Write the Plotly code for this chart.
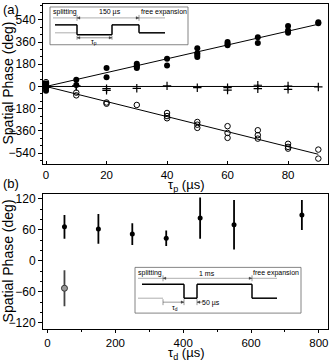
import plotly.graph_objects as go

# ---------- data ----------
# panel (a): spatial phase vs tau_p
filled_x = [0, 0, 0, 0, 10, 10, 20, 20, 30, 30, 30, 30, 40, 40, 50, 50, 50, 50,
            60, 60, 60, 70, 70, 80, 80, 80, 90, 90]
filled_y = [25, 10, -15, -35, 54, 12, 150, 75, 185, 170, 160, 150, 225, 170, 310, 270, 255, 240,
            360, 347, 334, 400, 352, 490, 455, 435, 520, 512]

cross_x = [0, 0, 10, 10, 20, 20, 30, 40, 50, 60, 60, 70, 70, 80, 80, 90]
cross_y = [0, -5, 0, 5, -18, -32, -15, 5, -10, -10, -30, 10, -18, 4, -23, -4]

open_x = [0, 0, 0, 10, 10, 20, 20, 30, 40, 40, 40, 50, 50, 50, 60, 60, 60,
          70, 70, 70, 80, 80, 80, 90, 90]
open_y = [35, 20, 5, -50, -72, -130, -140, -150, -215, -240, -258, -288, -310, -336, -322, -377, -417,
          -355, -395, -423, -465, -490, -504, -512, -585]

fit_x = [0, 90]
fit_pos = [0, 505]
fit_zero = [0, 0]
fit_neg = [0, -550]

# panel (b): spatial phase vs tau_d
td_x = [50, 150, 250, 350, 450, 550, 750]
td_y = [66, 62, 52, 44, 83, 70, 89]
td_err = [23, 29, 21, 15, 40, 48, 29]

td2_x = [50]
td2_y = [-53]
td2_err = [35]

# ---------- layout helpers ----------
W, H = 331, 362
ML, MR, MT, MB = 43, 3, 2, 33
PW = W - ML - MR
PH = H - MT - MB
FONT = "Liberation Sans, Arial, sans-serif"


def px(x):
    return (x - ML) / PW


def py(y):
    return (H - MB - y) / PH


fig = go.Figure()

# panel a traces
for fy in (fit_pos, fit_zero, fit_neg):
    fig.add_trace(go.Scatter(x=fit_x, y=fy, mode="lines", line=dict(color="black", width=1),
                             xaxis="x", yaxis="y"))
fig.add_trace(go.Scatter(x=filled_x, y=filled_y, mode="markers",
                         marker=dict(symbol="circle", size=6, color="black"),
                         xaxis="x", yaxis="y"))
fig.add_trace(go.Scatter(x=cross_x, y=cross_y, mode="markers",
                         marker=dict(symbol="cross-thin", size=6, line=dict(color="black", width=1.2)),
                         xaxis="x", yaxis="y"))
fig.add_trace(go.Scatter(x=open_x, y=open_y, mode="markers",
                         marker=dict(symbol="circle-open", size=5.5, color="black", line=dict(width=1)),
                         xaxis="x", yaxis="y"))

# panel b traces
fig.add_trace(go.Scatter(x=td_x, y=td_y, mode="markers",
                         error_y=dict(type="data", array=td_err, color="black", thickness=1.8, width=0),
                         marker=dict(symbol="circle", size=5, color="black"),
                         xaxis="x2", yaxis="y2"))
fig.add_trace(go.Scatter(x=td2_x, y=td2_y, mode="markers",
                         error_y=dict(type="data", array=td2_err, color="#444", thickness=1.8, width=0),
                         marker=dict(symbol="circle", size=6, color="#999", line=dict(color="#333", width=1)),
                         xaxis="x2", yaxis="y2"))

axis_common = dict(showline=True, linecolor="black", linewidth=1, mirror=True,
                   ticks="outside", ticklen=4, tickcolor="black", showgrid=False,
                   zeroline=False, tickfont=dict(family=FONT, size=12, color="black"))
xfont = dict(family=FONT, size=11.5, color="black")

fig.update_layout(
    width=W, height=H, autosize=False,
    margin=dict(l=ML, r=MR, t=MT, b=MB),
    paper_bgcolor="white", plot_bgcolor="white",
    showlegend=False,
    font=dict(family=FONT, color="black"),
    xaxis=dict(axis_common, domain=[0, 1], range=[-1, 93.2], tick0=0, dtick=20,
               ticks="inside", ticklen=3, tickfont=xfont, anchor="y"),
    yaxis=dict(axis_common, domain=[py(163), 1], range=[-629, 669], tick0=0, dtick=180,
               minor=dict(ticks="outside", ticklen=2.5, tickcolor="black", dtick=60),
               anchor="x"),
    xaxis2=dict(axis_common, domain=[0, 1], range=[-13.3, 827], tick0=0, dtick=200,
                ticklen=3, tickfont=xfont,
                minor=dict(ticks="outside", ticklen=2, tickcolor="black", dtick=100),
                anchor="y2"),
    yaxis2=dict(axis_common, domain=[0, py(193)], range=[-132, 130], tick0=0, dtick=60,
                minor=dict(ticks="outside", ticklen=2.5, tickcolor="black", dtick=20),
                anchor="x2"),
)

ann = []


def text(x, y, s, size=13, xanchor="center", angle=0, color="black"):
    ann.append(dict(x=px(x), y=py(y), xref="paper", yref="paper", text=s, showarrow=False,
                    xanchor=xanchor, yanchor="middle", textangle=angle,
                    font=dict(family=FONT, size=size, color=color)))


text(1, 8, "(a)", xanchor="left")
text(1, 183, "(b)", xanchor="left")
text(8, 82, "Spatial Phase (deg)", size=14, angle=-90)
text(8, 261, "Spatial Phase (deg)", size=14, angle=-90)
text(186, 185, "τ<sub>p</sub> (µs)", size=13)
text(186, 354, "τ<sub>d</sub> (µs)", size=13)

shapes = []


def seg(x0, y0, x1, y1, width=1.5, color="black"):
    shapes.append(dict(type="line", xref="paper", yref="paper",
                       x0=px(x0), y0=py(y0), x1=px(x1), y1=py(y1),
                       line=dict(color=color, width=width)))


def poly(pts, width=1.5):
    for (a, b), (c, d) in zip(pts[:-1], pts[1:]):
        seg(a, b, c, d, width)


def head(x, y, d):
    # small arrowhead with tip at (x, y); d=+1 points right, -1 points left
    p = f"M {px(x)},{py(y)} L {px(x - 3 * d)},{py(y - 1.3)} L {px(x - 3 * d)},{py(y + 1.3)} Z"
    shapes.append(dict(type="path", xref="paper", yref="paper", path=p,
                       fillcolor="#444", line=dict(color="#444", width=0.3)))


# inset (a)
shapes.append(dict(type="rect", xref="paper", yref="paper", x0=px(50), y0=py(43), x1=px(188), y1=py(5),
                   line=dict(color="#666", width=0.8), fillcolor="white", layer="above"))
text(65, 10.5, "splitting", size=7)
text(110, 10.5, "150 µs", size=7)
text(164, 10.5, "free expansion", size=7)
seg(53, 16, 165, 16, 0.6, "#777")
seg(77, 13, 77, 19, 0.6, "#555")
seg(139, 13, 139, 19, 0.6, "#555")
head(77, 16, -1)
head(139, 16, 1)
seg(55, 31, 77, 31, 0.6, "#777")
poly([(55, 23), (77, 23), (77, 33), (112, 33), (112, 23), (139, 23), (139, 31), (165, 31)])
seg(77, 36, 112, 36, 0.6, "#555")
seg(77, 34, 77, 38, 0.6, "#555")
seg(112, 34, 112, 38, 0.6, "#555")
head(77, 36, -1)
head(112, 36, 1)
text(94, 40, "τ<sub>p</sub>", size=7)

# inset (b)
shapes.append(dict(type="rect", xref="paper", yref="paper", x0=px(135), y0=py(313), x1=px(301), y1=py(267),
                   line=dict(color="#666", width=0.8), fillcolor="white", layer="above"))
text(150, 273, "splitting", size=7)
text(207, 273, "1 ms", size=7)
text(276, 273, "free expansion", size=7)
seg(138, 278, 277, 278, 0.6, "#777")
seg(163, 275, 163, 281, 0.6, "#555")
seg(252, 275, 252, 281, 0.6, "#555")
head(163, 278, -1)
head(252, 278, 1)
seg(138, 298, 163, 298, 0.6, "#777")
poly([(142, 284), (184, 284), (184, 298), (197, 298), (197, 284), (252, 284), (252, 298), (277, 298)])
seg(163, 302, 184, 302, 0.6, "#555")
seg(163, 299, 163, 305, 0.6, "#555")
seg(184, 299, 184, 305, 0.6, "#555")
seg(197, 299, 197, 305, 0.6, "#555")
seg(197, 302, 203, 302, 0.6, "#555")
head(184, 302, 1)
head(197, 302, -1)
text(175, 308, "τ<sub>d</sub>", size=7)
text(211, 302.5, "50 µs", size=7)

fig.update_layout(annotations=ann, shapes=shapes)

fig.write_html("out.html", config={"displayModeBar": False},
               post_script="document.body.style.margin='0';")
